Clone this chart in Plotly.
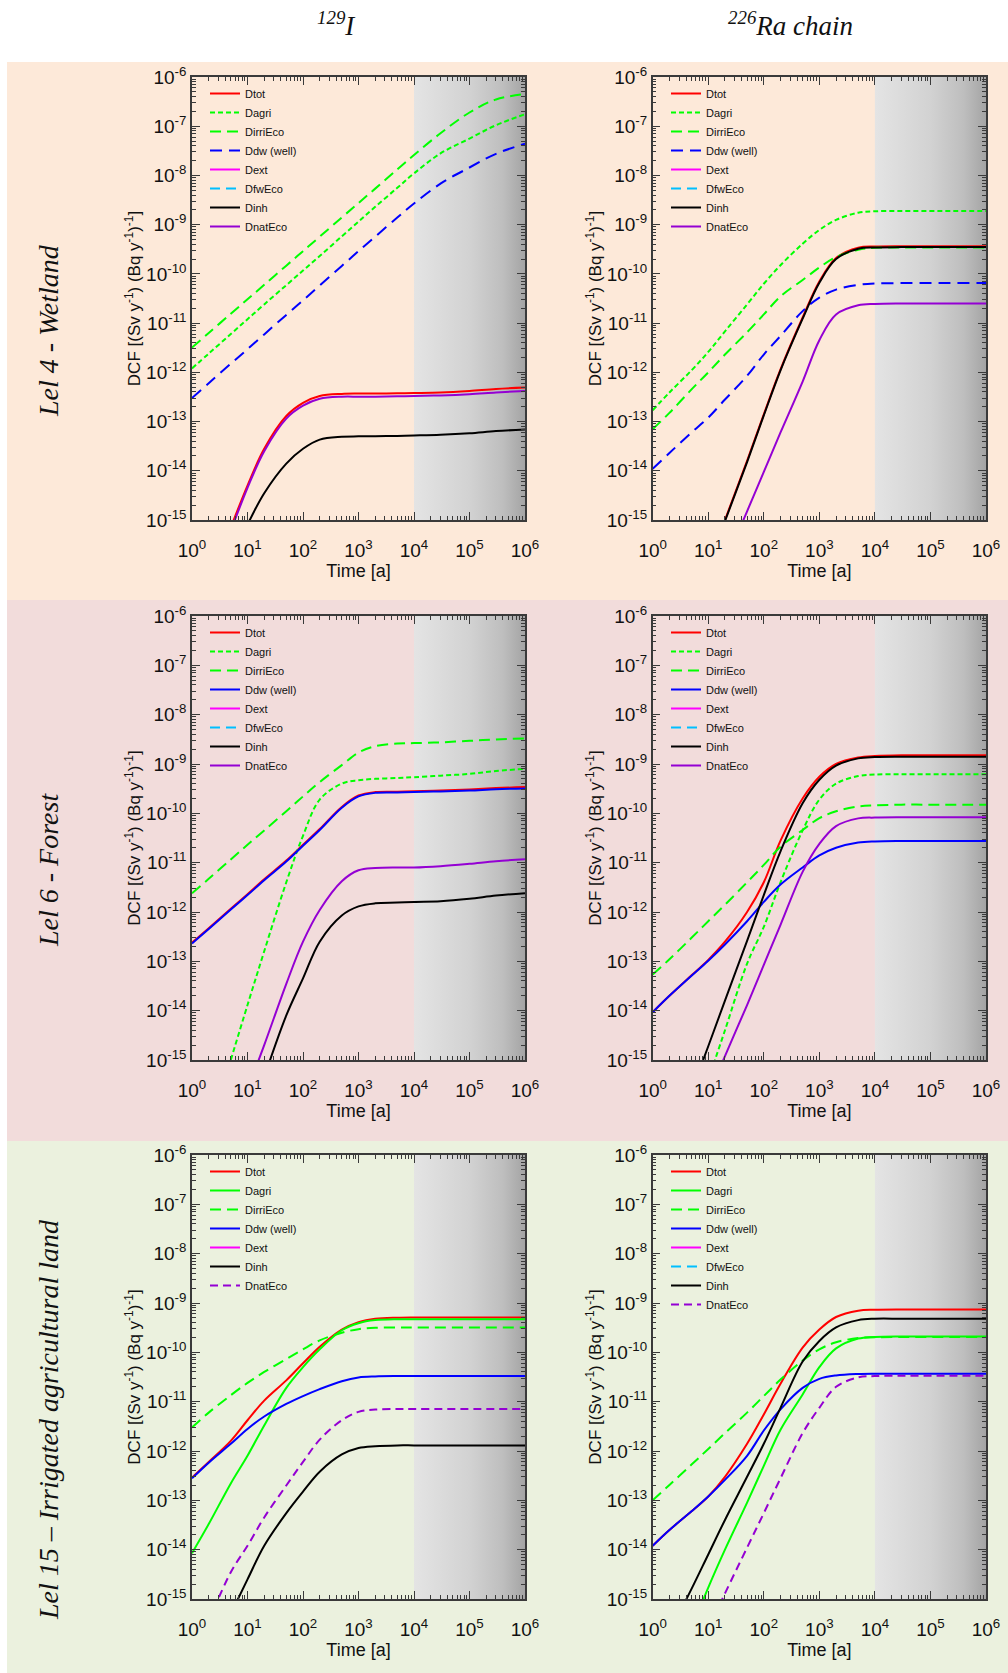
import plotly.graph_objects as go

W, H = 1008, 1673

# ---------------- data ----------------
T = [1, 2, 5, 10, 20, 50, 100, 200, 500, 1e3, 2e3, 5e3, 1e4, 3e4, 1e5, 3e5, 1e6]

# Panel 1: 129I, Lel 4 - Wetland
I_WET_DTOT = [None, None, 7e-16, 5e-15, 2.8e-14, 1.3e-13, 2.4e-13, 3.3e-13, 3.65e-13, 3.7e-13, 3.7e-13, 3.75e-13, 3.8e-13, 3.9e-13, 4.2e-13, 4.6e-13, 4.9e-13]
I_WET_DAGRI = [1.2e-12, 2.4e-12, 6e-12, 1.2e-11, 2.4e-11, 5.9e-11, 1.17e-10, 2.3e-10, 5.8e-10, 1.15e-9, 2.3e-9, 5.6e-9, 1.1e-8, 2.8e-8, 5.6e-8, 1.05e-7, 1.75e-7]
I_WET_DIRRI = [3.2e-12, 6.3e-12, 1.55e-11, 3.05e-11, 6e-11, 1.47e-10, 2.9e-10, 5.7e-10, 1.4e-9, 2.75e-9, 5.4e-9, 1.33e-8, 2.6e-8, 7.2e-8, 1.9e-7, 3.5e-7, 4.5e-7]
I_WET_DDW = [3e-13, 6e-13, 1.5e-12, 2.95e-12, 5.9e-12, 1.47e-11, 2.9e-11, 5.8e-11, 1.45e-10, 2.9e-10, 5.7e-10, 1.4e-9, 2.7e-9, 6.8e-9, 1.45e-8, 2.75e-8, 4.4e-8]
I_WET_DINH = [None, None, None, 8e-16, 3.5e-15, 1.4e-14, 2.8e-14, 4.3e-14, 4.9e-14, 5e-14, 5.05e-14, 5.1e-14, 5.2e-14, 5.4e-14, 5.8e-14, 6.4e-14, 6.9e-14]
I_WET_DNAT = [None, None, 6e-16, 4.5e-15, 2.5e-14, 1.15e-13, 2.1e-13, 2.9e-13, 3.2e-13, 3.2e-13, 3.2e-13, 3.25e-13, 3.3e-13, 3.4e-13, 3.6e-13, 3.9e-13, 4.2e-13]

# Panel 2: 226Ra chain, Lel 4 - Wetland
RA_WET_DTOT = [None, None, None, 1.2e-16, 1e-15, 1.6e-14, 1.4e-13, 1.15e-12, 1.3e-11, 7e-11, 2.1e-10, 3.4e-10, 3.6e-10, 3.65e-10, 3.65e-10, 3.65e-10, 3.65e-10]
RA_WET_DAGRI = [1.7e-13, 3.9e-13, 1.1e-12, 2.6e-12, 6.8e-12, 2.4e-11, 6.3e-11, 1.5e-10, 4.1e-10, 7.8e-10, 1.25e-9, 1.75e-9, 1.87e-9, 1.9e-9, 1.9e-9, 1.9e-9, 1.9e-9]
RA_WET_DIRRI = [7e-14, 1.5e-13, 4.5e-13, 1e-12, 2.3e-12, 6.5e-12, 1.5e-11, 3.5e-11, 7.5e-11, 1.35e-10, 2.2e-10, 3.1e-10, 3.4e-10, 3.45e-10, 3.45e-10, 3.45e-10, 3.45e-10]
RA_WET_DDW = [1.1e-14, 2.3e-14, 6e-14, 1.2e-13, 2.8e-13, 8.5e-13, 2.3e-12, 5.5e-12, 1.75e-11, 3.3e-11, 4.8e-11, 6e-11, 6.4e-11, 6.5e-11, 6.5e-11, 6.5e-11, 6.5e-11]
RA_WET_DINH = [None, None, None, 1.1e-16, 9.5e-16, 1.5e-14, 1.33e-13, 1.1e-12, 1.23e-11, 6.6e-11, 2e-10, 3.25e-10, 3.45e-10, 3.5e-10, 3.5e-10, 3.5e-10, 3.5e-10]
RA_WET_DNAT = [None, None, None, None, 1.3e-16, 1.5e-15, 9.5e-15, 6e-14, 6.5e-13, 4.5e-12, 1.5e-11, 2.3e-11, 2.45e-11, 2.5e-11, 2.5e-11, 2.5e-11, 2.5e-11]

# Panel 3: 129I, Lel 6 - Forest
I_FOR_DTOT = [2.4e-13, 4.7e-13, 1.17e-12, 2.3e-12, 4.6e-12, 1.1e-11, 2.3e-11, 4.8e-11, 1.35e-10, 2.3e-10, 2.7e-10, 2.75e-10, 2.8e-10, 2.9e-10, 3.05e-10, 3.25e-10, 3.4e-10]
I_FOR_DAGRI = [None, None, 1e-15, 1.3e-14, 1.6e-13, 4e-12, 3.5e-11, 1.9e-10, 4e-10, 4.7e-10, 5e-10, 5.2e-10, 5.4e-10, 5.8e-10, 6.3e-10, 7.2e-10, 8e-10]
I_FOR_DIRRI = [2.4e-12, 4.7e-12, 1.16e-11, 2.3e-11, 4.5e-11, 1.1e-10, 2.2e-10, 4.3e-10, 9.5e-10, 1.7e-9, 2.3e-9, 2.6e-9, 2.65e-9, 2.75e-9, 2.95e-9, 3.15e-9, 3.3e-9]
I_FOR_DDW = [2.3e-13, 4.5e-13, 1.12e-12, 2.2e-12, 4.4e-12, 1.05e-11, 2.2e-11, 4.6e-11, 1.3e-10, 2.2e-10, 2.6e-10, 2.65e-10, 2.7e-10, 2.78e-10, 2.9e-10, 3.08e-10, 3.2e-10]
I_FOR_DINH = [None, None, None, None, 4.5e-16, 8e-15, 4.5e-14, 2.5e-13, 8.5e-13, 1.3e-12, 1.5e-12, 1.55e-12, 1.6e-12, 1.65e-12, 1.85e-12, 2.15e-12, 2.4e-12]
I_FOR_DNAT = [None, None, None, 2.5e-16, 2e-15, 3.5e-14, 2.5e-13, 1.1e-12, 4.2e-12, 7e-12, 7.8e-12, 8e-12, 8e-12, 8.5e-12, 9.5e-12, 1.07e-11, 1.17e-11]

# Panel 4: 226Ra chain, Lel 6 - Forest
RA_FOR_DTOT = [9.3e-15, 2e-14, 5.2e-14, 1.07e-13, 2.5e-13, 1e-12, 4e-12, 2.8e-11, 2e-10, 5.5e-10, 1e-9, 1.35e-9, 1.45e-9, 1.5e-9, 1.5e-9, 1.5e-9, 1.5e-9]
RA_FOR_DAGRI = [None, None, None, 4e-16, 4e-15, 9e-14, 5e-13, 4e-12, 4.5e-11, 1.9e-10, 4e-10, 5.7e-10, 6.1e-10, 6.2e-10, 6.2e-10, 6.2e-10, 6.2e-10]
RA_FOR_DIRRI = [5.4e-14, 1.1e-13, 3e-13, 6.5e-13, 1.4e-12, 4e-12, 9e-12, 2.1e-11, 4.6e-11, 8e-11, 1.1e-10, 1.38e-10, 1.45e-10, 1.5e-10, 1.5e-10, 1.5e-10, 1.5e-10]
RA_FOR_DDW = [9.3e-15, 2e-14, 5.1e-14, 1.03e-13, 2.2e-13, 6.5e-13, 1.6e-12, 3.6e-12, 8e-12, 1.4e-11, 2e-11, 2.55e-11, 2.7e-11, 2.75e-11, 2.75e-11, 2.75e-11, 2.75e-11]
RA_FOR_DINH = [None, None, 2.3e-16, 1.9e-15, 1.6e-14, 2.6e-13, 2.2e-12, 1.7e-11, 1.6e-10, 4.8e-10, 9.3e-10, 1.3e-9, 1.38e-9, 1.4e-9, 1.4e-9, 1.4e-9, 1.4e-9]
RA_FOR_DNAT = [None, None, None, 1.8e-16, 1.2e-15, 1.3e-14, 8.5e-14, 5.5e-13, 6.5e-12, 2.4e-11, 5.5e-11, 7.9e-11, 8.2e-11, 8.3e-11, 8.3e-11, 8.3e-11, 8.3e-11]

# Panel 5: 129I, Lel 15 - Irrigated agricultural land
I_IRR_DTOT = [2.9e-13, 6e-13, 1.6e-12, 4.2e-12, 1.05e-11, 2.7e-11, 6e-11, 1.3e-10, 2.9e-10, 4.1e-10, 4.8e-10, 5.05e-10, 5.1e-10, 5.1e-10, 5.1e-10, 5.1e-10, 5.1e-10]
I_IRR_DAGRI = [8.5e-15, 3.3e-14, 2.2e-13, 8e-13, 3.3e-12, 1.9e-11, 5e-11, 1.15e-10, 2.8e-10, 3.9e-10, 4.5e-10, 4.7e-10, 4.7e-10, 4.7e-10, 4.7e-10, 4.7e-10, 4.7e-10]
I_IRR_DIRRI = [3e-12, 6e-12, 1.35e-11, 2.4e-11, 4e-11, 7.3e-11, 1.15e-10, 1.75e-10, 2.5e-10, 2.95e-10, 3.15e-10, 3.2e-10, 3.2e-10, 3.2e-10, 3.2e-10, 3.2e-10, 3.2e-10]
I_IRR_DDW = [2.8e-13, 5.8e-13, 1.4e-12, 2.8e-12, 5e-12, 9e-12, 1.3e-11, 1.8e-11, 2.6e-11, 3.1e-11, 3.25e-11, 3.3e-11, 3.3e-11, 3.3e-11, 3.3e-11, 3.3e-11, 3.3e-11]
I_IRR_DINH = [None, None, 5e-16, 2.5e-15, 1.2e-14, 5.5e-14, 1.5e-13, 3.8e-13, 8.5e-13, 1.15e-12, 1.25e-12, 1.3e-12, 1.3e-12, 1.3e-12, 1.3e-12, 1.3e-12, 1.3e-12]
I_IRR_DNAT = [None, 3.5e-16, 3.5e-15, 1.2e-14, 4.5e-14, 2e-13, 6e-13, 1.7e-12, 4.2e-12, 6.2e-12, 6.9e-12, 7.1e-12, 7.1e-12, 7.1e-12, 7.1e-12, 7.1e-12, 7.1e-12]

# Panel 6: 226Ra chain, Lel 15 - Irrigated agricultural land
RA_IRR_DTOT = [1.2e-14, 2.5e-14, 6e-14, 1.2e-13, 3e-13, 1.4e-12, 5.5e-12, 2.3e-11, 1.25e-10, 2.9e-10, 5.2e-10, 7e-10, 7.3e-10, 7.4e-10, 7.4e-10, 7.4e-10, 7.4e-10]
RA_IRR_DAGRI = [None, None, 2.5e-16, 1.7e-15, 1e-14, 9e-14, 5e-13, 2.7e-12, 1.4e-11, 5e-11, 1.2e-10, 1.9e-10, 2.05e-10, 2.1e-10, 2.1e-10, 2.1e-10, 2.1e-10]
RA_IRR_DIRRI = [1e-13, 2.05e-13, 5.3e-13, 1.1e-12, 2.3e-12, 6e-12, 1.3e-11, 2.8e-11, 6.8e-11, 1.15e-10, 1.6e-10, 1.95e-10, 2.02e-10, 2.05e-10, 2.05e-10, 2.05e-10, 2.05e-10]
RA_IRR_DDW = [1.2e-14, 2.5e-14, 6e-14, 1.2e-13, 2.6e-13, 8e-13, 2.6e-12, 7e-12, 1.9e-11, 2.9e-11, 3.4e-11, 3.65e-11, 3.7e-11, 3.7e-11, 3.7e-11, 3.7e-11, 3.7e-11]
RA_IRR_DINH = [None, 2.1e-16, 1.6e-15, 8e-15, 4e-14, 3e-13, 1.4e-12, 7.5e-12, 6.5e-11, 1.7e-10, 3.2e-10, 4.5e-10, 4.8e-10, 4.8e-10, 4.8e-10, 4.8e-10, 4.8e-10]
RA_IRR_DNAT = [None, None, None, 2.5e-16, 1.3e-15, 1.1e-14, 5.5e-14, 2.8e-13, 2.3e-12, 7.5e-12, 2e-11, 3.1e-11, 3.3e-11, 3.35e-11, 3.35e-11, 3.35e-11, 3.35e-11]

COL_TITLES = ["<sup>129</sup>I", "<sup>226</sup>Ra chain"]
ROW_TITLES = ["Lel 4 - Wetland", "Lel 6 - Forest", "Lel 15 \u2013 Irrigated agricultural land"]
ROW_BANDS = ["#FDE9D9", "#F2DCDB", "#EBF1DE"]

X_TICK_VALUES = [1, 10, 100, 1e3, 1e4, 1e5, 1e6]
X_TICK_TEXT = ["10<sup>%d</sup>" % k for k in range(0, 7)]
Y_TICK_VALUES = [1e-15, 1e-14, 1e-13, 1e-12, 1e-11, 1e-10, 1e-9, 1e-8, 1e-7, 1e-6]
Y_TICK_TEXT = ["10<sup>-%d</sup>" % k for k in range(15, 5, -1)]
SHADE_X = [1e4, 1e6]
Y_RANGE = [1e-15, 1e-6]

# ---------------- styles ----------------
NARROW = "Liberation Sans Narrow, Arial Narrow, Liberation Sans, Arial, sans-serif"
SERIF = "Liberation Serif, Times New Roman, serif"
RED, GREEN, BLUE, MAGENTA, CYAN, BLACK, PURPLE = "#ff0000", "#00ff00", "#0000ff", "#ff00ff", "#00bfff", "#000000", "#9400d3"
SHORT, LONG, BLUEDASH, CYANDASH, NATDASH = "5px,3px", "11px,6px", "12px,7px", "10px,6px", "8px,5px"

PANELS = [
    [("Dtot", I_WET_DTOT, RED, "solid"), ("Dagri", I_WET_DAGRI, GREEN, SHORT), ("DirriEco", I_WET_DIRRI, GREEN, LONG),
     ("Ddw (well)", I_WET_DDW, BLUE, BLUEDASH), ("Dext", None, MAGENTA, "solid"), ("DfwEco", None, CYAN, CYANDASH),
     ("Dinh", I_WET_DINH, BLACK, "solid"), ("DnatEco", I_WET_DNAT, PURPLE, "solid")],
    [("Dtot", RA_WET_DTOT, RED, "solid"), ("Dagri", RA_WET_DAGRI, GREEN, SHORT), ("DirriEco", RA_WET_DIRRI, GREEN, LONG),
     ("Ddw (well)", RA_WET_DDW, BLUE, BLUEDASH), ("Dext", None, MAGENTA, "solid"), ("DfwEco", None, CYAN, CYANDASH),
     ("Dinh", RA_WET_DINH, BLACK, "solid"), ("DnatEco", RA_WET_DNAT, PURPLE, "solid")],
    [("Dtot", I_FOR_DTOT, RED, "solid"), ("Dagri", I_FOR_DAGRI, GREEN, SHORT), ("DirriEco", I_FOR_DIRRI, GREEN, LONG),
     ("Ddw (well)", I_FOR_DDW, BLUE, "solid"), ("Dext", None, MAGENTA, "solid"), ("DfwEco", None, CYAN, CYANDASH),
     ("Dinh", I_FOR_DINH, BLACK, "solid"), ("DnatEco", I_FOR_DNAT, PURPLE, "solid")],
    [("Dtot", RA_FOR_DTOT, RED, "solid"), ("Dagri", RA_FOR_DAGRI, GREEN, SHORT), ("DirriEco", RA_FOR_DIRRI, GREEN, LONG),
     ("Ddw (well)", RA_FOR_DDW, BLUE, "solid"), ("Dext", None, MAGENTA, "solid"), ("DfwEco", None, CYAN, CYANDASH),
     ("Dinh", RA_FOR_DINH, BLACK, "solid"), ("DnatEco", RA_FOR_DNAT, PURPLE, "solid")],
    [("Dtot", I_IRR_DTOT, RED, "solid"), ("Dagri", I_IRR_DAGRI, GREEN, "solid"), ("DirriEco", I_IRR_DIRRI, GREEN, LONG),
     ("Ddw (well)", I_IRR_DDW, BLUE, "solid"), ("Dext", None, MAGENTA, "solid"),
     ("Dinh", I_IRR_DINH, BLACK, "solid"), ("DnatEco", I_IRR_DNAT, PURPLE, NATDASH)],
    [("Dtot", RA_IRR_DTOT, RED, "solid"), ("Dagri", RA_IRR_DAGRI, GREEN, "solid"), ("DirriEco", RA_IRR_DIRRI, GREEN, LONG),
     ("Ddw (well)", RA_IRR_DDW, BLUE, "solid"), ("Dext", None, MAGENTA, "solid"), ("DfwEco", None, CYAN, CYANDASH),
     ("Dinh", RA_IRR_DINH, BLACK, "solid"), ("DnatEco", RA_IRR_DNAT, PURPLE, NATDASH)],
]

# layout geometry (pixels)
COLX = [(192, 525), (652.7, 986)]
ROWY = [(77, 520), (616, 1060), (1155, 1599)]
BAND_Y = [(62, 600), (600, 1141), (1141, 1673)]
LEG_X = [205, 666]

AXCOL = "#3a3a3a"
MINOR_X = [m * 10 ** e for e in range(0, 6) for m in range(2, 10)]
MINOR_Y = [m * 10.0 ** e for e in range(-15, -6) for m in range(2, 10)]

fig = go.Figure()
layout = dict(width=W, height=H, margin=dict(l=0, r=0, t=0, b=0, pad=0, autoexpand=False),
              paper_bgcolor="white", plot_bgcolor="rgba(0,0,0,0)", showlegend=True)
shapes, annotations = [], []

for r, (b0, b1) in enumerate(BAND_Y):
    shapes.append(dict(type="rect", xref="paper", yref="paper", x0=7 / W, x1=1, y0=1 - b1 / H, y1=1 - b0 / H,
                       fillcolor=ROW_BANDS[r], line=dict(width=0), layer="below"))

for i, series in enumerate(PANELS):
    r, c = divmod(i, 2)
    s = "" if i == 0 else str(i + 1)
    xa, ya = "x" + s, "y" + s
    leg = "legend" + s
    fig.add_trace(go.Scatter(x=[SHADE_X[0], SHADE_X[1], SHADE_X[1], SHADE_X[0], SHADE_X[0]],
                             y=[Y_RANGE[0], Y_RANGE[0], Y_RANGE[1], Y_RANGE[1], Y_RANGE[0]],
                             mode="lines", line=dict(width=0), fill="toself",
                             fillgradient=dict(type="horizontal",
                                               colorscale=[[0, "#e4e4e4"], [0.5, "#d2d2d2"], [0.8, "#bebebe"], [1, "#a4a4a4"]]),
                             showlegend=False, hoverinfo="skip", xaxis=xa, yaxis=ya))
    for name, vals, color, dash in series:
        if vals is None:
            xs, ys = [None], [None]
        else:
            xs, ys = T, vals
        fig.add_trace(go.Scatter(x=xs, y=ys, name=name, mode="lines",
                                 line=dict(color=color, width=2, dash=dash, shape="spline", smoothing=1.0),
                                 xaxis=xa, yaxis=ya, legend=leg))
    x0, x1 = COLX[c]
    y0, y1 = ROWY[r]
    common = dict(type="log", showline=True, linecolor=AXCOL, linewidth=1.5, mirror="ticks",
                  ticks="inside", ticklen=8, tickwidth=1.2, tickcolor=AXCOL, showgrid=False, zeroline=False,
                  tickmode="array", tickfont=dict(family=NARROW, size=19, color="#111"), automargin=False)
    layout["xaxis" + s] = dict(common, domain=[x0 / W, x1 / W], anchor=ya, range=[0, 6],
                               tickvals=X_TICK_VALUES, ticktext=X_TICK_TEXT, ticklabelstandoff=12,
                               minor=dict(ticks="inside", ticklen=4, tickwidth=1, tickcolor=AXCOL,
                                          tickmode="array", tickvals=MINOR_X, showgrid=False),
                               title=dict(text="Time [a]", font=dict(family=NARROW, size=18, color="#111"), standoff=0))
    layout["yaxis" + s] = dict(common, domain=[1 - y1 / H, 1 - y0 / H], anchor=xa, range=[-15, -6],
                               tickvals=Y_TICK_VALUES, ticktext=Y_TICK_TEXT,
                               minor=dict(ticks="inside", ticklen=4, tickwidth=1, tickcolor=AXCOL,
                                          tickmode="array", tickvals=MINOR_Y, showgrid=False),
                               title=dict(text="DCF [(Sv y<sup>-1</sup>) (Bq y<sup>-1</sup>)<sup>-1</sup>]",
                                          font=dict(family=NARROW, size=17, color="#111"), standoff=1))
    layout[leg] = dict(x=LEG_X[c] / W, y=1 - (y0 + 2) / H, xanchor="left", yanchor="top",
                       bgcolor="rgba(0,0,0,0)", font=dict(family=NARROW, size=11, color="#111"),
                       itemwidth=30, tracegroupgap=0)

for c, (cx, txt) in enumerate(zip([336, 790], COL_TITLES)):
    annotations.append(dict(text="<i>" + txt + "</i>", x=cx / W, y=1 - 24 / H, xref="paper", yref="paper",
                            showarrow=False, xanchor="center", yanchor="middle",
                            font=dict(family=SERIF, size=27, color="#111")))
for r, (ry, txt) in enumerate(zip([331, 870, 1420], ROW_TITLES)):
    annotations.append(dict(text="<i>" + txt + "</i>", x=48 / W, y=1 - ry / H, xref="paper", yref="paper",
                            showarrow=False, textangle=-90, xanchor="center", yanchor="middle",
                            font=dict(family=SERIF, size=28, color="#111")))

layout["shapes"] = shapes
layout["annotations"] = annotations
fig.update_layout(**layout)
fig.write_html("out.html", config={"displayModeBar": False},
               post_script="document.body.style.margin='0';document.body.style.overflow='hidden';")
